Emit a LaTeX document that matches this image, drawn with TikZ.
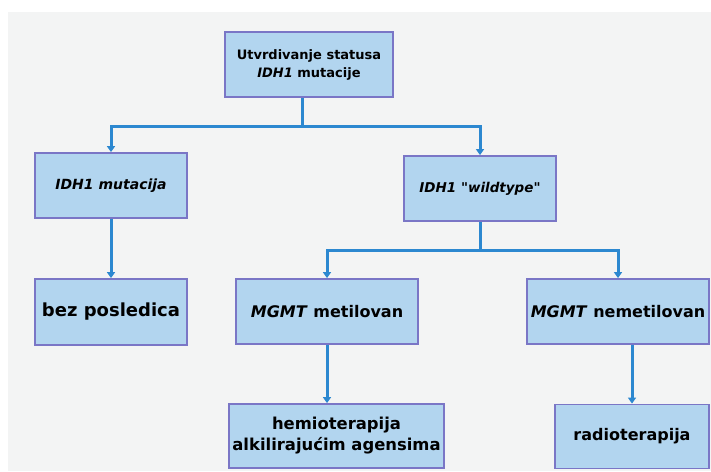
\documentclass[tikz,border=0pt]{standalone}
\usepackage{fontspec}
\setmainfont{DejaVu Sans}[Ligatures=TeXOff]
\usetikzlibrary{arrows.meta}
\definecolor{bg}{HTML}{F3F4F4}
\definecolor{boxfill}{HTML}{B2D5EF}
\definecolor{boxline}{HTML}{7A76C6}
\definecolor{conn}{HTML}{2C88D0}
\begin{document}
\begin{tikzpicture}[x=1pt,y=-1pt,
  box/.style={draw=boxline,line width=1.8pt,fill=boxfill,rectangle,align=center,inner sep=0pt,font=\bfseries},
  link/.style={draw=conn,line width=3pt},
  arr/.style={link,-{Triangle[length=6pt,width=8pt]}}]
\fill[white] (0,0) rectangle (711,471);
\fill[bg] (8,12) rectangle (711,471);
\useasboundingbox (0,0) rectangle (711,471);
\node[box,minimum width=168pt,minimum height=65pt,font=\bfseries\fontsize{13}{18}\selectfont] (top) at (309,64.5) {Utvrdivanje statusa\\\textit{IDH1} mutacije};
\node[box,minimum width=152pt,minimum height=65pt,font=\bfseries\itshape\fontsize{14}{16}\selectfont] (mut) at (111,185.5) {IDH1 mutacija};
\node[box,minimum width=152pt,minimum height=65pt,font=\bfseries\itshape\fontsize{13.5}{16}\selectfont] (wild) at (480,188.5) {IDH1 "wildtype"};
\node[box,minimum width=152pt,minimum height=66pt,font=\bfseries\fontsize{18}{21}\selectfont] (bez) at (111,312) {bez posledica};
\node[box,minimum width=182pt,minimum height=65pt,font=\bfseries\fontsize{16}{19}\selectfont] (metil) at (327,311.5) {\textit{MGMT} metilovan};
\node[box,minimum width=182pt,minimum height=65pt,font=\bfseries\fontsize{16}{19}\selectfont] (nemetil) at (618,311.5) {\textit{MGMT} nemetilovan};
\node[box,minimum width=215pt,minimum height=64pt,font=\bfseries\fontsize{16.4}{21}\selectfont] (hemio) at (336.5,436) {hemioterapija\\alkilirajućim agensima};
\node[box,minimum width=154pt,minimum height=64pt,font=\bfseries\fontsize{16}{19}\selectfont] (radio) at (632,436.5) {radioterapija};
\coordinate (j1) at (302,126);
\coordinate (j2) at (480,250);
\draw[link] (top.south -| j1) -- (j1);
\draw[arr] (j1) -| (mut.north);
\draw[arr] (j1) -| (wild.north);
\draw[arr] (mut.south) -- (bez.north);
\draw[link] (wild.south) -- (j2);
\draw[arr] (j2) -| (metil.north);
\draw[arr] (j2) -| (nemetil.north);
\draw[arr] (metil.south) -- (metil.south |- hemio.north);
\draw[arr] (nemetil.south -| radio.north) -- (radio.north);
\end{tikzpicture}
\end{document}
